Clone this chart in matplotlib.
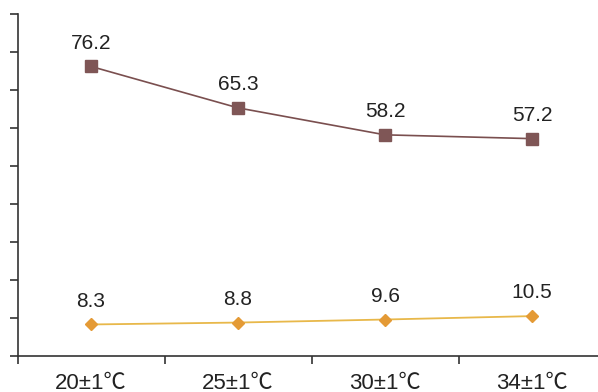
import matplotlib.pyplot as plt

plt.rcParams['font.family'] = ['Liberation Sans', 'Noto Sans CJK SC', 'DejaVu Sans']

categories = ['20±1℃', '25±1℃', '30±1℃', '34±1℃']
upper = [76.2, 65.3, 58.2, 57.2]
lower = [8.3, 8.8, 9.6, 10.5]

fig = plt.figure(figsize=(5.98, 3.92), dpi=100)
ax = fig.add_axes([17.5 / 598, 36 / 392, 588 / 598, 342 / 392])

x = list(range(len(categories)))
ax.plot(x, upper, color='#7a4f4f', lw=1.2, marker='s', ms=9,
        markerfacecolor='#7f5656', markeredgecolor='#7f5656')
ax.plot(x, lower, color='#e8b84a', lw=1.3, marker='D', ms=6.5,
        markerfacecolor='#e49a35', markeredgecolor='#e49a35')

for xi, v in zip(x, upper):
    ax.annotate(f'{v}', (xi, v), xytext=(0, 10), textcoords='offset points',
                ha='center', va='bottom', fontsize=15, color='#222222')
for xi, v in zip(x, lower):
    ax.annotate(f'{v}', (xi, v), xytext=(0, 10), textcoords='offset points',
                ha='center', va='bottom', fontsize=15, color='#222222')

ax.set_xlim(-0.5, len(categories) - 0.5)
ax.set_ylim(0, 90)
ax.set_yticks(range(0, 91, 10))
ax.set_yticklabels([])
ax.set_xticks([i - 0.5 for i in range(len(categories) + 1)])
ax.set_xticklabels([])
ax.set_xticks(x, minor=True)
ax.set_xticklabels(categories, minor=True, fontsize=16, color='#222222')
ax.tick_params(axis='x', which='minor', length=0, pad=12)
ax.tick_params(axis='both', which='major', length=6, width=1.2, color='#333333')

for s in ['top', 'right']:
    ax.spines[s].set_visible(False)
for s in ['left', 'bottom']:
    ax.spines[s].set_color('#333333')
    ax.spines[s].set_linewidth(1.2)

fig.savefig('out.png', dpi=100)
